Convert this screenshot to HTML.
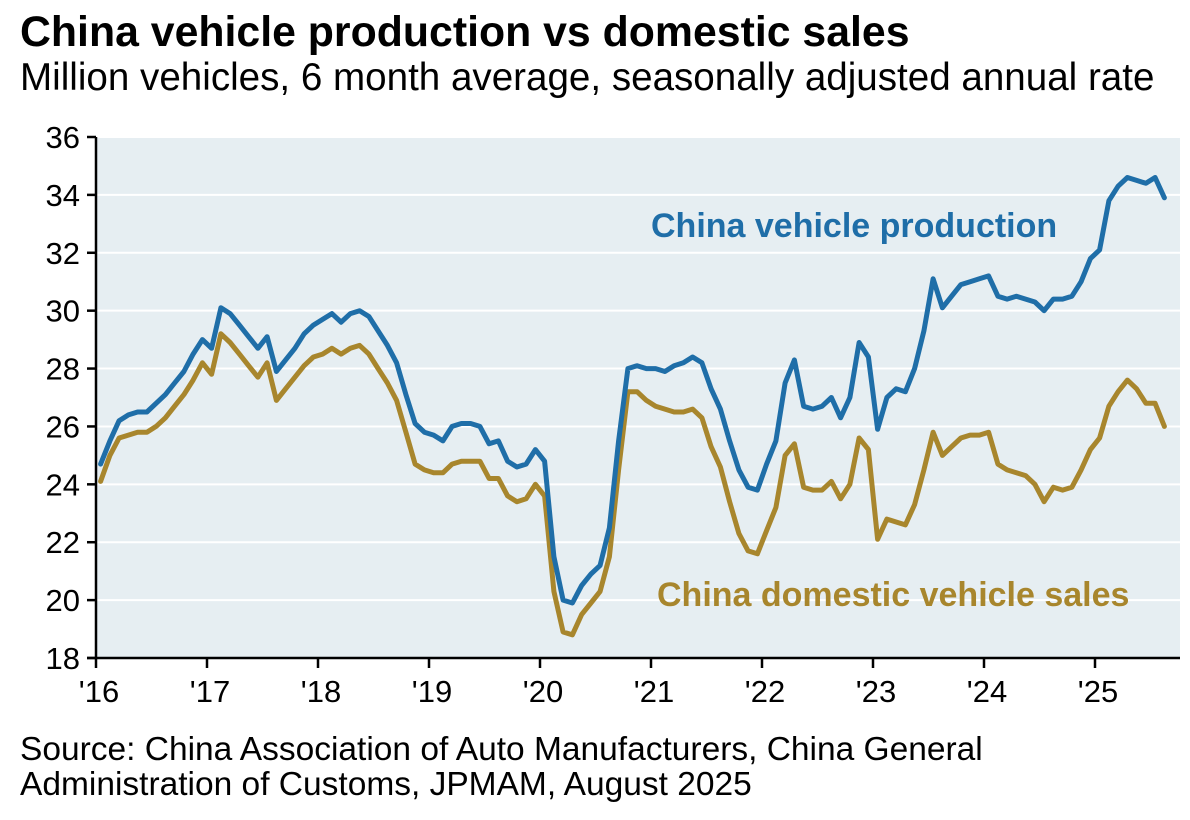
<!DOCTYPE html>
<html><head><meta charset="utf-8"><style>
body{margin:0;background:#fff;width:1190px;height:820px;overflow:hidden;font-family:"Liberation Sans",Arial,sans-serif}
#title{position:absolute;left:20px;top:8px;font-size:42.8px;font-weight:bold;color:#000;white-space:nowrap}
#sub{position:absolute;left:20px;top:56px;font-size:38.6px;color:#000;white-space:nowrap}
#src{position:absolute;left:20px;top:732px;font-size:33.5px;line-height:35px;color:#000;white-space:nowrap}
svg{position:absolute;left:0;top:0}
</style></head><body>
<div id="title">China vehicle production vs domestic sales</div>
<div id="sub">Million vehicles, 6 month average, seasonally adjusted annual rate</div>
<svg id="chart" width="1190" height="820"></svg>
<div id="src">Source: China Association of Auto Manufacturers, China General<br>Administration of Customs, JPMAM, August 2025</div>
<script>
const yTicks=[18,20,22,24,26,28,30,32,34,36];
const xTickLabels=["'16","'17","'18","'19","'20","'21","'22","'23","'24","'25"];
const production=[24.7,25.5,26.2,26.4,26.5,26.5,26.8,27.1,27.5,27.9,28.5,29.0,
28.7,30.1,29.9,29.5,29.1,28.7,29.1,27.9,28.3,28.7,29.2,29.5,
29.7,29.9,29.6,29.9,30.0,29.8,29.3,28.8,28.2,27.1,26.1,25.8,
25.7,25.5,26.0,26.1,26.1,26.0,25.4,25.5,24.8,24.6,24.7,25.2,
24.8,21.5,20.0,19.9,20.5,20.9,21.2,22.5,25.5,28.0,28.1,28.0,
28.0,27.9,28.1,28.2,28.4,28.2,27.3,26.6,25.5,24.5,23.9,23.8,
24.7,25.5,27.5,28.3,26.7,26.6,26.7,27.0,26.3,27.0,28.9,28.4,
25.9,27.0,27.3,27.2,28.0,29.3,31.1,30.1,30.5,30.9,31.0,31.1,
31.2,30.5,30.4,30.5,30.4,30.3,30.0,30.4,30.4,30.5,31.0,31.8,
32.1,33.8,34.3,34.6,34.5,34.4,34.6,33.9];
const sales=[24.1,25.0,25.6,25.7,25.8,25.8,26.0,26.3,26.7,27.1,27.6,28.2,
27.8,29.2,28.9,28.5,28.1,27.7,28.2,26.9,27.3,27.7,28.1,28.4,
28.5,28.7,28.5,28.7,28.8,28.5,28.0,27.5,26.9,25.8,24.7,24.5,
24.4,24.4,24.7,24.8,24.8,24.8,24.2,24.2,23.6,23.4,23.5,24.0,
23.6,20.3,18.9,18.8,19.5,19.9,20.3,21.5,24.5,27.2,27.2,26.9,
26.7,26.6,26.5,26.5,26.6,26.3,25.3,24.6,23.4,22.3,21.7,21.6,
22.4,23.2,25.0,25.4,23.9,23.8,23.8,24.1,23.5,24.0,25.6,25.2,
22.1,22.8,22.7,22.6,23.3,24.5,25.8,25.0,25.3,25.6,25.7,25.7,
25.8,24.7,24.5,24.4,24.3,24.0,23.4,23.9,23.8,23.9,24.5,25.2,
25.6,26.7,27.2,27.6,27.3,26.8,26.8,26.0];
const NS="http://www.w3.org/2000/svg";
const svg=document.getElementById('chart');
const L=96,R=1180,T=137,B=658;
const y=v=>B-(v-18)/(36-18)*(B-T);
const x=m=>L+m*(111/12);
function mk(t,a){const e=document.createElementNS(NS,t);for(const k in a)e.setAttribute(k,a[k]);svg.appendChild(e);return e;}
const bg=mk('rect',{x:L,y:T,width:R-L,height:B-T,fill:'#e6eef2'});


yTicks.forEach(v=>{
 if(v>18){const g=mk('line',{x1:L,x2:R,y1:y(v),y2:y(v),stroke:'#fff','stroke-width':2});
 
 }
 mk('line',{x1:L-9,x2:L,y1:y(v),y2:y(v),stroke:'#000','stroke-width':2.5});
 const t=mk('text',{x:L-16,y:y(v)+11,'text-anchor':'end','font-size':31,fill:'#000'});
 t.textContent=v;
 
 
});
xTickLabels.forEach((s,i)=>{
 const xx=x(i*12);
 mk('line',{x1:xx,x2:xx,y1:B,y2:B+10,stroke:'#000','stroke-width':2.5});
 const t=mk('text',{x:xx+3,y:B+44,'text-anchor':'middle','font-size':31,fill:'#000'});
 t.textContent=s;
 
 
});
mk('line',{x1:L,x2:L,y1:T,y2:B,stroke:'#000','stroke-width':2.5});
mk('line',{x1:L-9,x2:R,y1:B,y2:B,stroke:'#000','stroke-width':2.5});
function line(d,c,n){const p=mk('path',{d:d.map((v,i)=>(i?'L':'M')+x(i+0.5).toFixed(1)+','+y(v).toFixed(1)).join(''),fill:'none',stroke:c,'stroke-width':5,'stroke-linejoin':'round','stroke-linecap':'round'});
 
 }
line(sales,'#a8862d','sales-line');
line(production,'#1f6ea8','production-line');
const l1=mk('text',{x:651,y:237,'font-size':34,'font-weight':'bold',fill:'#1f6ea8'});
l1.textContent='China vehicle production';


const l2=mk('text',{x:657,y:606,'font-size':34,'font-weight':'bold',fill:'#a8862d'});
l2.textContent='China domestic vehicle sales';


</script>
</body></html>
